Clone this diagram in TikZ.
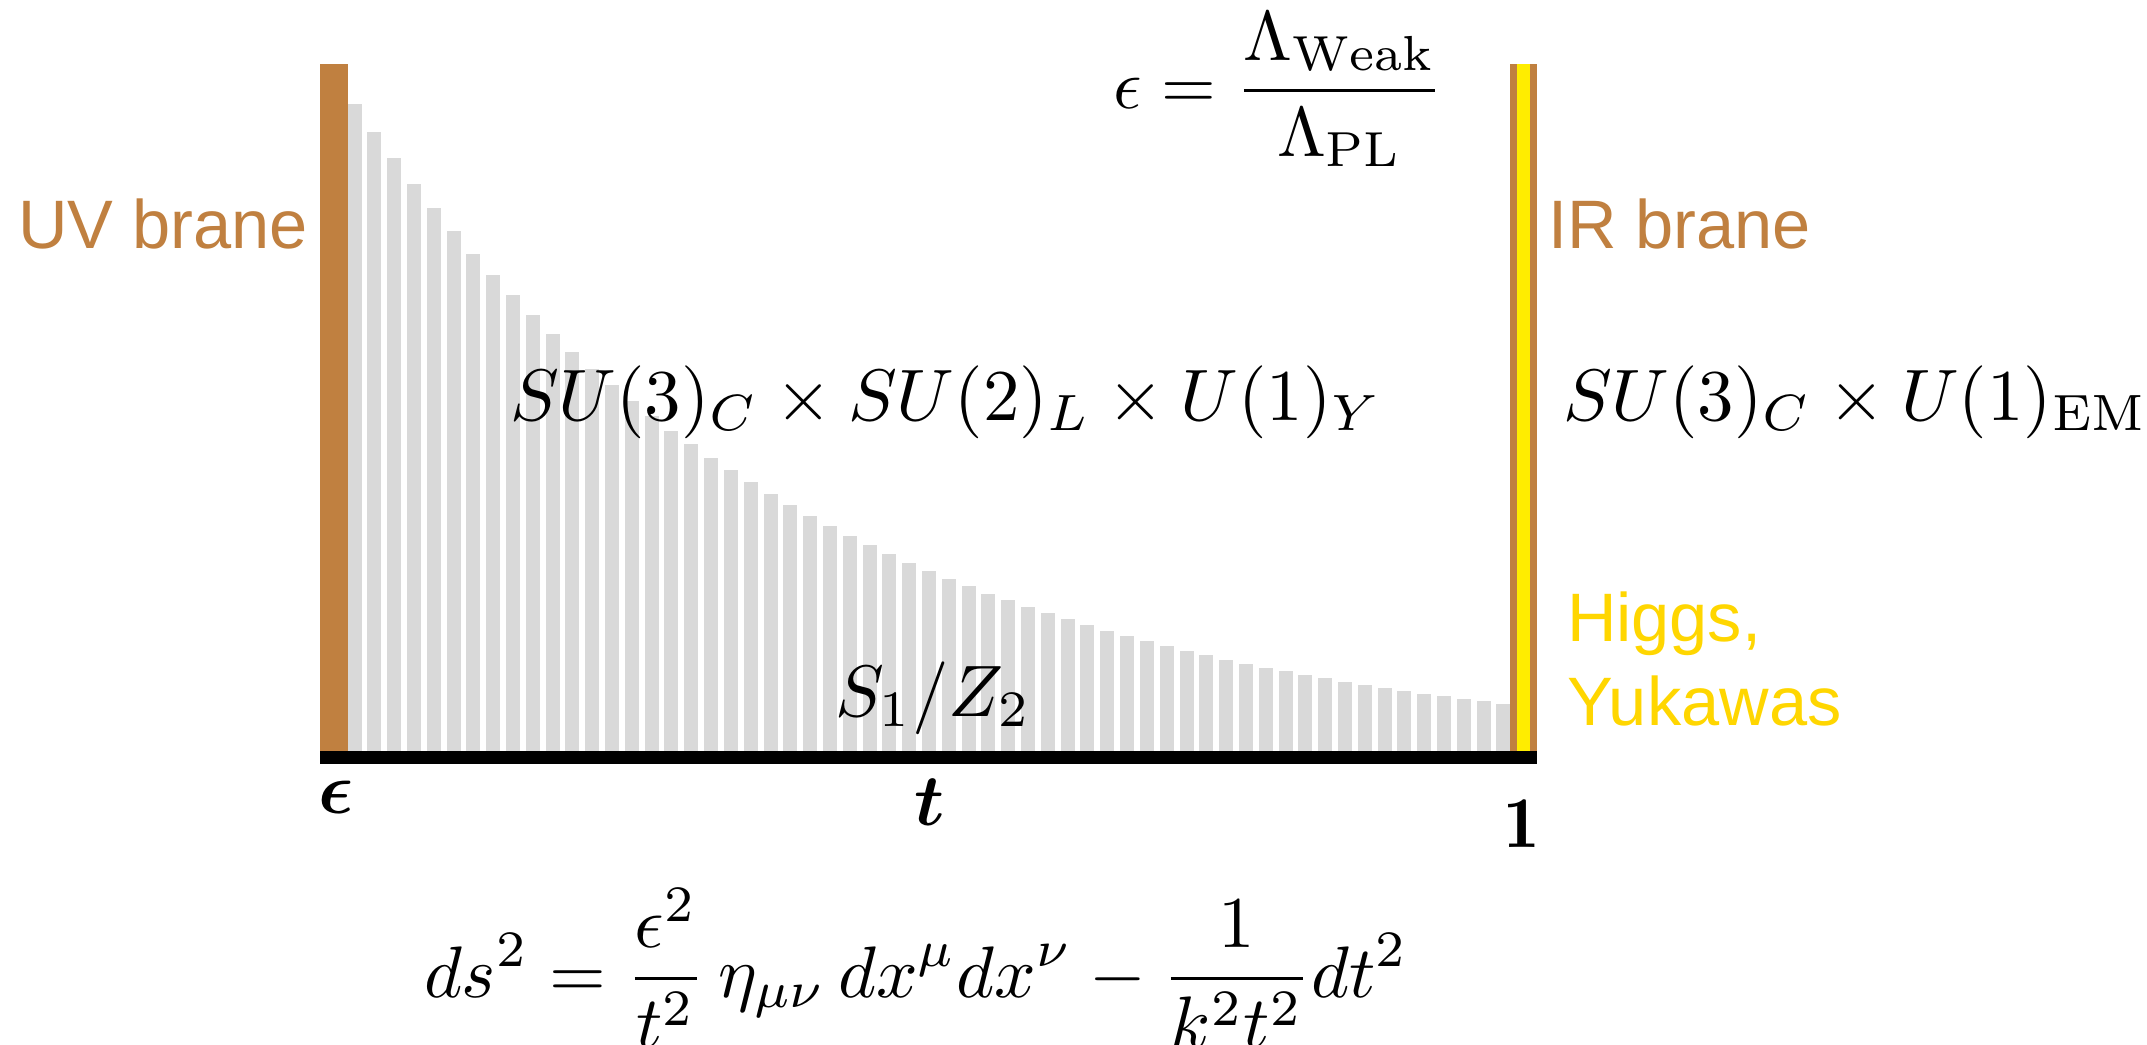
\documentclass[tikz,border=0pt]{standalone}
\usepackage{amsmath}
\usepackage{bm}
\usepackage{graphicx}
\usepackage{fontspec}
\newfontfamily\brfont{Liberation Sans}
\definecolor{branebrown}{RGB}{192,128,64}
\definecolor{braneyellow}{RGB}{255,237,0}
\definecolor{higgsgold}{RGB}{255,214,0}
\definecolor{bulkgray}{RGB}{217,217,217}
\newcommand{\Mth}[1]{\scalebox{2.074}{$\displaystyle #1$}}
\newcommand{\MthS}[2]{\scalebox{#1}{$\displaystyle #2$}}
\begin{document}
\begin{tikzpicture}[x=0.01cm,y=-0.01cm,
  every node/.style={inner sep=0pt,outer sep=0pt},
  branelbl/.style={font=\brfont\fontsize{19.5}{24}\selectfont, text=branebrown},
  higgslbl/.style={font=\brfont\fontsize{19.5}{24}\selectfont, text=higgsgold},
  barstyle/.style={fill=bulkgray}]
\useasboundingbox (0,0) rectangle (2147,1045);
% bulk bars
\foreach \i in {0,...,58}{
  \pgfmathsetmacro{\xl}{347.5+19.81*\i}
  \pgfmathsetmacro{\ht}{652*pow(0.9575,\i)-5}
  \fill[barstyle] (\xl,751) rectangle ({\xl+14},{751-\ht});
}
% branes
\fill[branebrown] (320,64) rectangle (348,751);
\fill[branebrown] (1510,64) rectangle (1537,751);
\fill[braneyellow] (1517,64) rectangle (1530,751);
% base
\fill[black] (320,751) rectangle (1537,764);
% labels
\node[branelbl, anchor=base east] (uv) at (308,248) {UV brane};
\node[branelbl, anchor=base west] (ir) at (1548,248) {IR brane};
\node[higgslbl, anchor=base west] (higgs) at (1567,641) {Higgs,};
\node[higgslbl, anchor=base west] (yuk) at (1567,725) {Yukawas};
\node[anchor=base west] (eps) at (1113,108) {\MthS{2.0}{\epsilon = \frac{\Lambda_{\mathrm{Weak}}}{\Lambda_{\mathrm{PL}}}}};
\node[anchor=base west] (sm) at (510,420) {\Mth{SU(3)_C \times SU(2)_L \times U(1)_Y}};
\node[anchor=base west] (em) at (1563,420) {\Mth{SU(3)_C \times U(1)_{\mathrm{EM}}}};
\node[anchor=base west] (orb) at (835,716) {\Mth{S_1/Z_2}};
\node[anchor=base west] (epsl) at (318,813) {\Mth{\bm{\epsilon}}};
\node[anchor=base west] (tl) at (914,825) {\Mth{\bm{t}}};
\node[anchor=base west] (one) at (1503,847) {\Mth{\mathbf{1}}};
\node[anchor=base west] (metric) at (424,997) {\Mth{ds^2 = \frac{\epsilon^2}{t^2}\,\eta_{\mu\nu}\,dx^\mu dx^\nu - \frac{1}{k^2t^2}dt^2}};
\end{tikzpicture}
\end{document}
